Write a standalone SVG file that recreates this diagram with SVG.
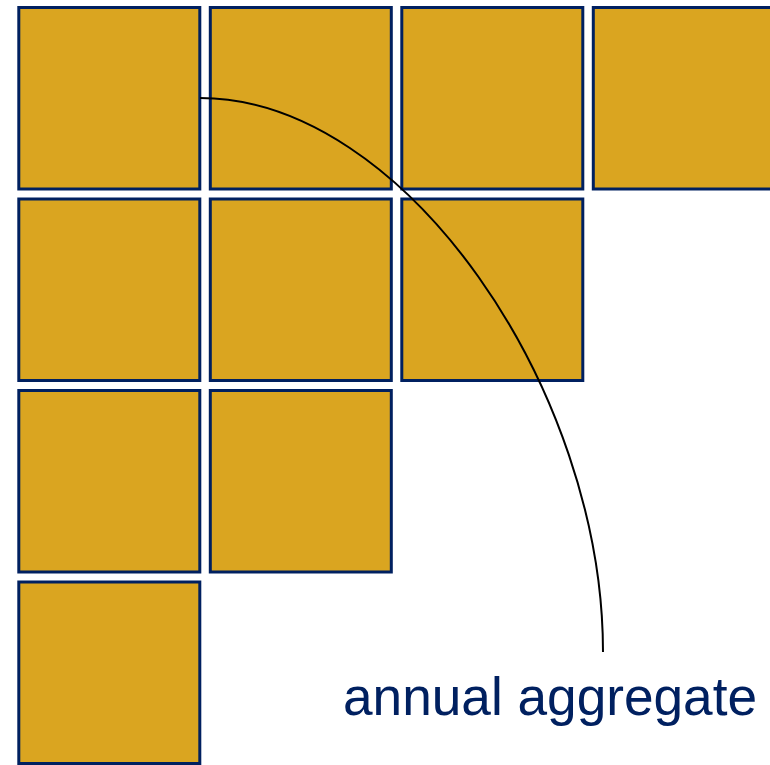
<svg xmlns="http://www.w3.org/2000/svg" width="770" height="765" viewBox="0 0 770 765">
  <style>
    .sq { fill: #DAA520; stroke: #002060; stroke-width: 3; }
    .conn { fill: none; stroke: #000000; stroke-width: 2; }
    .lbl { font-family: "Liberation Sans", Arial, sans-serif; font-size: 53.2px; fill: #002060; }
  </style>
  <rect width="770" height="765" fill="#ffffff"/>
  <g id="sq-r1c1"><rect class="sq" x="18.8" y="7.5" width="181" height="181.5"/></g>
  <g id="sq-r1c2"><rect class="sq" x="210.3" y="7.5" width="181" height="181.5"/></g>
  <g id="sq-r1c3"><rect class="sq" x="401.8" y="7.5" width="181" height="181.5"/></g>
  <g id="sq-r1c4"><rect class="sq" x="593.3" y="7.5" width="181" height="181.5"/></g>
  <g id="sq-r2c1"><rect class="sq" x="18.8" y="199" width="181" height="181.5"/></g>
  <g id="sq-r2c2"><rect class="sq" x="210.3" y="199" width="181" height="181.5"/></g>
  <g id="sq-r2c3"><rect class="sq" x="401.8" y="199" width="181" height="181.5"/></g>
  <g id="sq-r3c1"><rect class="sq" x="18.8" y="390.5" width="181" height="181.5"/></g>
  <g id="sq-r3c2"><rect class="sq" x="210.3" y="390.5" width="181" height="181.5"/></g>
  <g id="sq-r4c1"><rect class="sq" x="18.8" y="582" width="181" height="181.5"/></g>
  <g id="connectors">
    <path class="conn" d="M200,98 C405,98 603,390 603,652"/>
  </g>
  <g id="label">
    <text class="lbl" x="343" y="715">annual aggregate</text>
  </g>
</svg>
